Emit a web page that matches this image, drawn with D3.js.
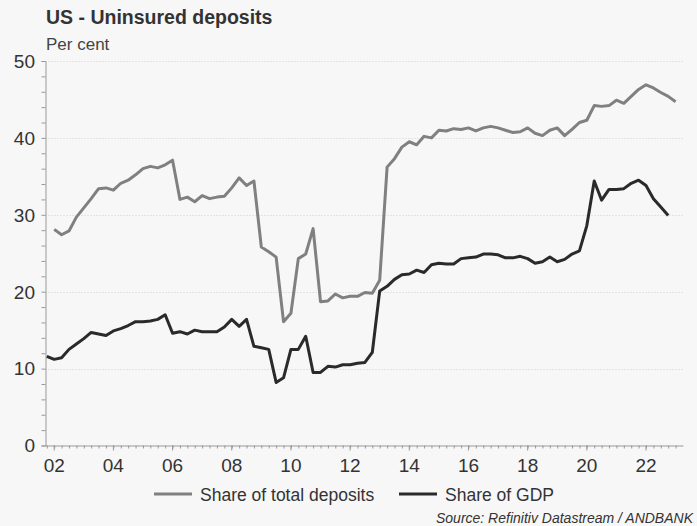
<!DOCTYPE html>
<html>
<head>
<meta charset="utf-8">
<script src="https://cdn.jsdelivr.net/npm/d3@7"></script>
<style>
  html, body { margin: 0; padding: 0; background: #f7f7f7; }
  svg { display: block; font-family: "Liberation Sans", Arial, sans-serif; }
</style>
</head>
<body>
<div id="chart"></div>
<script>
// Quarterly values, in per cent (first quarter of each series given below)
const depositsStart = [2001, 4];
const depositsShare = [
  28.1, 27.4, 27.9, 29.7, 30.9, 32.1, 33.4, 33.5, 33.2, 34.1, 34.5, 35.2,
  36.0, 36.3, 36.1, 36.5, 37.1, 32.0, 32.3, 31.7, 32.5, 32.1, 32.3, 32.4,
  33.5, 34.8, 33.8, 34.4, 25.8, 25.2, 24.5, 16.1, 17.2, 24.3, 24.9, 28.2,
  18.7, 18.8, 19.7, 19.2, 19.4, 19.4, 19.9, 19.8, 21.5, 36.2, 37.3, 38.8,
  39.5, 39.1, 40.2, 40.0, 41.0, 40.9, 41.2, 41.1, 41.3, 40.9, 41.3, 41.5,
  41.3, 41.0, 40.7, 40.8, 41.3, 40.6, 40.3, 41.0, 41.3, 40.3, 41.1, 42.0,
  42.3, 44.2, 44.1, 44.2, 44.9, 44.5, 45.4, 46.3, 46.9, 46.5, 45.9, 45.4,
  44.7
];

const gdpStart = [2001, 3];
const gdpShare = [
  11.6, 11.2, 11.4, 12.5, 13.2, 13.9, 14.7, 14.5, 14.3, 14.9, 15.2, 15.6,
  16.1, 16.1, 16.2, 16.4, 17.0, 14.6, 14.8, 14.5, 15.0, 14.8, 14.8, 14.8,
  15.4, 16.4, 15.5, 16.4, 12.9, 12.7, 12.5, 8.2, 8.8, 12.5, 12.5, 14.2,
  9.5, 9.5, 10.3, 10.2, 10.5, 10.5, 10.7, 10.8, 12.1, 20.1, 20.7, 21.6,
  22.2, 22.3, 22.8, 22.5, 23.5, 23.7, 23.6, 23.6, 24.3, 24.4, 24.5, 24.9,
  24.9, 24.8, 24.4, 24.4, 24.6, 24.3, 23.7, 23.9, 24.5, 23.9, 24.2, 24.9,
  25.3, 28.6, 34.4, 31.9, 33.3, 33.3, 33.4, 34.1, 34.5, 33.8, 32.1, 31.0,
  29.9
];

const yTicks = [0, 10, 20, 30, 40, 50];
const xTickYears = [2002, 2004, 2006, 2008, 2010, 2012, 2014, 2016, 2018, 2020, 2022];

const seriesNames = ["Share of total deposits", "Share of GDP"];
const seriesColors = ["#808080", "#2a2a2a"];

const width = 697;
const height = 526;

// quarter-end position as decimal year
function toSeries(start, values) {
  return values.map((v, i) => {
    const q = start[1] + i;
    return { t: start[0] + q / 4, v: v };
  });
}

const series = [toSeries(depositsStart, depositsShare), toSeries(gdpStart, gdpShare)];

const svg = d3.select("#chart")
  .append("svg")
  .attr("width", width)
  .attr("height", height);

svg.append("rect")
  .attr("width", width)
  .attr("height", height)
  .attr("fill", "#f7f7f7");

const x = d3.scaleLinear().domain([2001.706, 2023.25]).range([45.5, 683]);
const y = d3.scaleLinear().domain([0, 50]).range([445.5, 61]);

// Title
svg.append("text")
  .attr("x", 46)
  .attr("y", 24)
  .attr("font-size", 19.5)
  .attr("font-weight", "bold")
  .attr("fill", "#333")
  .text("US - Uninsured deposits");

svg.append("text")
  .attr("x", 46)
  .attr("y", 49.5)
  .attr("font-size", 17)
  .attr("fill", "#444")
  .text("Per cent");

// Gridlines
svg.append("g")
  .selectAll("line")
  .data(yTicks.filter((d) => d > 0))
  .join("line")
  .attr("x1", x.range()[0])
  .attr("x2", x.range()[1])
  .attr("y1", (d) => Math.round(y(d)) + 0.5)
  .attr("y2", (d) => Math.round(y(d)) + 0.5)
  .attr("stroke", "#cfcfcf")
  .attr("stroke-width", 1)
  .attr("stroke-dasharray", "1,2");

// Y axis (minor ticks every 2, labels every 10)
const yAxis = svg.append("g").attr("transform", `translate(${x.range()[0]},0)`);
yAxis.call(
  d3.axisLeft(y).tickValues(d3.range(0, 51, 2)).tickSize(4).tickFormat("")
);
yAxis.select(".domain").attr("stroke", "#999");
yAxis.selectAll(".tick line").attr("stroke", "#999");

svg.append("g")
  .selectAll("text")
  .data(yTicks)
  .join("text")
  .attr("x", 35)
  .attr("y", (d) => y(d))
  .attr("dy", "0.36em")
  .attr("text-anchor", "end")
  .attr("font-size", 19)
  .attr("fill", "#333")
  .text((d) => d);

// X axis (quarterly minor ticks)
const xAxis = svg.append("g").attr("transform", `translate(0,${y(0)})`);
xAxis.call(
  d3.axisBottom(x)
    .tickValues(d3.range(2001.75, 2023.01, 0.25))
    .tickSize(3)
    .tickSizeOuter(0)
    .tickFormat("")
);
xAxis.select(".domain").attr("stroke", "#999");
xAxis.selectAll(".tick line").attr("stroke", "#999");

svg.append("g")
  .selectAll("line")
  .data(xTickYears)
  .join("line")
  .attr("x1", (d) => x(d))
  .attr("x2", (d) => x(d))
  .attr("y1", y(0))
  .attr("y2", y(0) + 5)
  .attr("stroke", "#999");

svg.append("g")
  .selectAll("text")
  .data(xTickYears)
  .join("text")
  .attr("x", (d) => x(d))
  .attr("y", 472)
  .attr("text-anchor", "middle")
  .attr("font-size", 19)
  .attr("fill", "#333")
  .text((d) => String(d % 100).padStart(2, "0"));

// Lines
const line = d3.line()
  .x((d) => x(d.t))
  .y((d) => y(d.v));

svg.append("g")
  .selectAll("path")
  .data(series)
  .join("path")
  .attr("d", line)
  .attr("fill", "none")
  .attr("stroke", (d, i) => seriesColors[i])
  .attr("stroke-width", 3)
  .attr("stroke-linejoin", "round");

// Legend
const legendX = [154, 399];
const legend = svg.append("g")
  .selectAll("g")
  .data(seriesNames)
  .join("g")
  .attr("transform", (d, i) => `translate(${legendX[i]},494)`);

legend.append("line")
  .attr("x1", 0)
  .attr("x2", 38)
  .attr("stroke", (d, i) => seriesColors[i])
  .attr("stroke-width", 3);

legend.append("text")
  .attr("x", 46)
  .attr("y", 7)
  .attr("font-size", 17.5)
  .attr("fill", "#333")
  .text((d) => d);

// Source
svg.append("text")
  .attr("x", 693)
  .attr("y", 523)
  .attr("text-anchor", "end")
  .attr("font-size", 14)
  .attr("font-style", "italic")
  .attr("fill", "#333")
  .text("Source: Refinitiv Datastream / ANDBANK");
</script>
</body>
</html>
